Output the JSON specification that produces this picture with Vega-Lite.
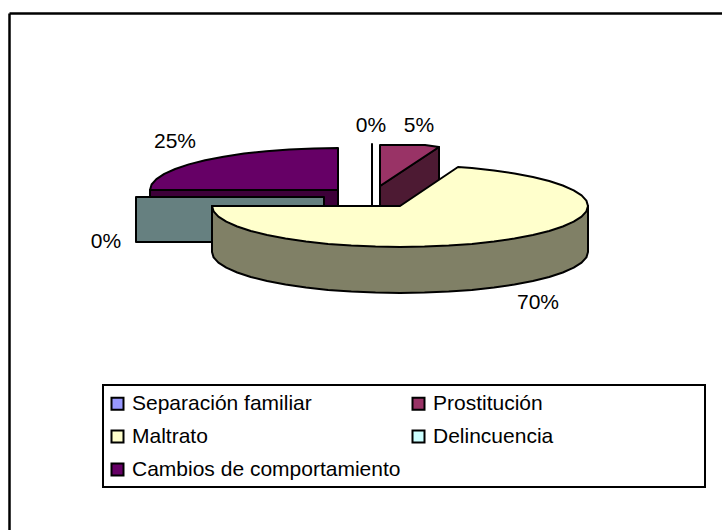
{"$schema":"https://vega.github.io/schema/vega-lite/v6.json","width":713,"height":517,"padding":{"left":9,"top":13,"right":0,"bottom":0},"autosize":{"type":"none"},"background":"white","config":{"view":{"stroke":null},"font":"Liberation Sans"},"layer":[{"data":{"values":[{"x":-297,"x2":305,"y":-179,"y2":-281}]},"mark":{"type":"rect","fill":"white","stroke":"black","strokeWidth":2},"encoding":{"x":{"field":"x","type":"quantitative","scale":{"domain":[-391,322],"nice":false,"zero":false},"axis":{"orient":"top","domain":true,"domainColor":"black","domainWidth":2.5,"labels":false,"ticks":false,"grid":false,"title":null}},"x2":{"field":"x2"},"y":{"field":"y","type":"quantitative","scale":{"domain":[-324,193],"nice":false,"zero":false},"axis":{"orient":"left","domain":true,"domainColor":"black","domainWidth":2.5,"labels":false,"ticks":false,"grid":false,"title":null}},"y2":{"field":"y2"}}},{"data":{"values":[{"part":"Cambios de comportamiento lateral","i":0,"x":-250,"y":16},{"part":"Cambios de comportamiento lateral","i":1,"x":-250,"y":-30},{"part":"Cambios de comportamiento lateral","i":2,"x":-62,"y":-30},{"part":"Cambios de comportamiento lateral","i":3,"x":-62,"y":16},{"part":"Cambios de comportamiento","i":0,"x":-62,"y":16},{"part":"Cambios de comportamiento","i":1,"x":-62,"y":58},{"part":"Cambios de comportamiento","i":2,"x":-86.5,"y":57.6},{"part":"Cambios de comportamiento","i":3,"x":-110.7,"y":56.6},{"part":"Cambios de comportamiento","i":4,"x":-133.9,"y":54.8},{"part":"Cambios de comportamiento","i":5,"x":-156,"y":52.4},{"part":"Cambios de comportamiento","i":6,"x":-176.5,"y":49.3},{"part":"Cambios de comportamiento","i":7,"x":-194.9,"y":45.7},{"part":"Cambios de comportamiento","i":8,"x":-211.2,"y":41.6},{"part":"Cambios de comportamiento","i":9,"x":-224.8,"y":37},{"part":"Cambios de comportamiento","i":10,"x":-235.7,"y":32.1},{"part":"Cambios de comportamiento","i":11,"x":-243.6,"y":26.9},{"part":"Cambios de comportamiento","i":12,"x":-248.4,"y":21.5},{"part":"Cambios de comportamiento","i":13,"x":-250,"y":16},{"part":"Delincuencia lateral","i":0,"x":-264,"y":9},{"part":"Delincuencia lateral","i":1,"x":-76,"y":9},{"part":"Delincuencia lateral","i":2,"x":-76,"y":-36},{"part":"Delincuencia lateral","i":3,"x":-264,"y":-36},{"part":"Separación familiar","i":0,"x":-28,"y":62},{"part":"Separación familiar","i":1,"x":-28,"y":0},{"part":"Prostitución lateral","i":0,"x":-20,"y":20},{"part":"Prostitución lateral","i":1,"x":39,"y":59},{"part":"Prostitución lateral","i":2,"x":39,"y":0},{"part":"Prostitución lateral","i":3,"x":-20,"y":0},{"part":"Prostitución","i":0,"x":-20,"y":20},{"part":"Prostitución","i":1,"x":-20,"y":61},{"part":"Prostitución","i":2,"x":25,"y":61},{"part":"Prostitución","i":3,"x":39,"y":59},{"part":"Maltrato lateral","i":0,"x":188,"y":0},{"part":"Maltrato lateral","i":1,"x":188,"y":-46},{"part":"Maltrato lateral","i":2,"x":186.4,"y":-51.4},{"part":"Maltrato lateral","i":3,"x":181.6,"y":-56.6},{"part":"Maltrato lateral","i":4,"x":173.7,"y":-61.7},{"part":"Maltrato lateral","i":5,"x":162.8,"y":-66.5},{"part":"Maltrato lateral","i":6,"x":149.2,"y":-71},{"part":"Maltrato lateral","i":7,"x":132.9,"y":-75},{"part":"Maltrato lateral","i":8,"x":114.5,"y":-78.5},{"part":"Maltrato lateral","i":9,"x":94,"y":-81.5},{"part":"Maltrato lateral","i":10,"x":71.9,"y":-83.9},{"part":"Maltrato lateral","i":11,"x":48.7,"y":-85.6},{"part":"Maltrato lateral","i":12,"x":24.5,"y":-86.6},{"part":"Maltrato lateral","i":13,"x":0,"y":-87},{"part":"Maltrato lateral","i":14,"x":-24.5,"y":-86.6},{"part":"Maltrato lateral","i":15,"x":-48.7,"y":-85.6},{"part":"Maltrato lateral","i":16,"x":-71.9,"y":-83.9},{"part":"Maltrato lateral","i":17,"x":-94,"y":-81.5},{"part":"Maltrato lateral","i":18,"x":-114.5,"y":-78.5},{"part":"Maltrato lateral","i":19,"x":-132.9,"y":-75},{"part":"Maltrato lateral","i":20,"x":-149.2,"y":-71},{"part":"Maltrato lateral","i":21,"x":-162.8,"y":-66.5},{"part":"Maltrato lateral","i":22,"x":-173.7,"y":-61.7},{"part":"Maltrato lateral","i":23,"x":-181.6,"y":-56.6},{"part":"Maltrato lateral","i":24,"x":-186.4,"y":-51.4},{"part":"Maltrato lateral","i":25,"x":-188,"y":-46},{"part":"Maltrato lateral","i":26,"x":-188,"y":0},{"part":"Maltrato","i":0,"x":0,"y":0},{"part":"Maltrato","i":1,"x":58,"y":39},{"part":"Maltrato","i":2,"x":71.9,"y":37.9},{"part":"Maltrato","i":3,"x":94,"y":35.5},{"part":"Maltrato","i":4,"x":114.5,"y":32.5},{"part":"Maltrato","i":5,"x":132.9,"y":29},{"part":"Maltrato","i":6,"x":149.2,"y":25},{"part":"Maltrato","i":7,"x":162.8,"y":20.5},{"part":"Maltrato","i":8,"x":173.7,"y":15.7},{"part":"Maltrato","i":9,"x":181.6,"y":10.6},{"part":"Maltrato","i":10,"x":186.4,"y":5.4},{"part":"Maltrato","i":11,"x":188,"y":0},{"part":"Maltrato","i":12,"x":186.4,"y":-5.4},{"part":"Maltrato","i":13,"x":181.6,"y":-10.6},{"part":"Maltrato","i":14,"x":173.7,"y":-15.7},{"part":"Maltrato","i":15,"x":162.8,"y":-20.5},{"part":"Maltrato","i":16,"x":149.2,"y":-25},{"part":"Maltrato","i":17,"x":132.9,"y":-29},{"part":"Maltrato","i":18,"x":114.5,"y":-32.5},{"part":"Maltrato","i":19,"x":94,"y":-35.5},{"part":"Maltrato","i":20,"x":71.9,"y":-37.9},{"part":"Maltrato","i":21,"x":48.7,"y":-39.6},{"part":"Maltrato","i":22,"x":24.5,"y":-40.6},{"part":"Maltrato","i":23,"x":0,"y":-41},{"part":"Maltrato","i":24,"x":-24.5,"y":-40.6},{"part":"Maltrato","i":25,"x":-48.7,"y":-39.6},{"part":"Maltrato","i":26,"x":-71.9,"y":-37.9},{"part":"Maltrato","i":27,"x":-94,"y":-35.5},{"part":"Maltrato","i":28,"x":-114.5,"y":-32.5},{"part":"Maltrato","i":29,"x":-132.9,"y":-29},{"part":"Maltrato","i":30,"x":-149.2,"y":-25},{"part":"Maltrato","i":31,"x":-162.8,"y":-20.5},{"part":"Maltrato","i":32,"x":-173.7,"y":-15.7},{"part":"Maltrato","i":33,"x":-181.6,"y":-10.6},{"part":"Maltrato","i":34,"x":-186.4,"y":-5.4},{"part":"Maltrato","i":35,"x":-188,"y":0}]},"mark":{"type":"line","interpolate":"linear-closed","stroke":"black","strokeWidth":2,"strokeJoin":"round"},"encoding":{"x":{"field":"x","type":"quantitative"},"y":{"field":"y","type":"quantitative"},"order":{"field":"i"},"fill":{"field":"part","type":"nominal","sort":null,"scale":{"domain":["Separación familiar","Prostitución","Maltrato","Delincuencia","Cambios de comportamiento","Prostitución lateral","Maltrato lateral","Delincuencia lateral","Cambios de comportamiento lateral"],"range":["#9999FF","#993366","#FFFFCC","#CCFFFF","#660066","#4D1A33","#808066","#668080","#3D0039"]},"legend":{"values":["Separación familiar","Maltrato","Cambios de comportamiento","Prostitución","Delincuencia"],"orient":"none","legendX":98,"legendY":380,"columns":2,"title":null,"symbolType":"square","symbolSize":144,"symbolStrokeColor":"black","symbolStrokeWidth":2,"labelFontSize":21,"labelFont":"Liberation Sans","labelColor":"black","labelOffset":4,"labelLimit":400,"rowPadding":11,"columnPadding":7,"padding":0}}}},{"data":{"values":[{"pct":"25%","x":-225,"y":64},{"pct":"0%","x":-29,"y":80},{"pct":"5%","x":19,"y":80},{"pct":"0%","x":-294,"y":-36},{"pct":"70%","x":138,"y":-97}]},"mark":{"type":"text","font":"Liberation Sans","fontSize":21,"color":"black"},"encoding":{"x":{"field":"x","type":"quantitative"},"y":{"field":"y","type":"quantitative"},"text":{"field":"pct"}}}]}
